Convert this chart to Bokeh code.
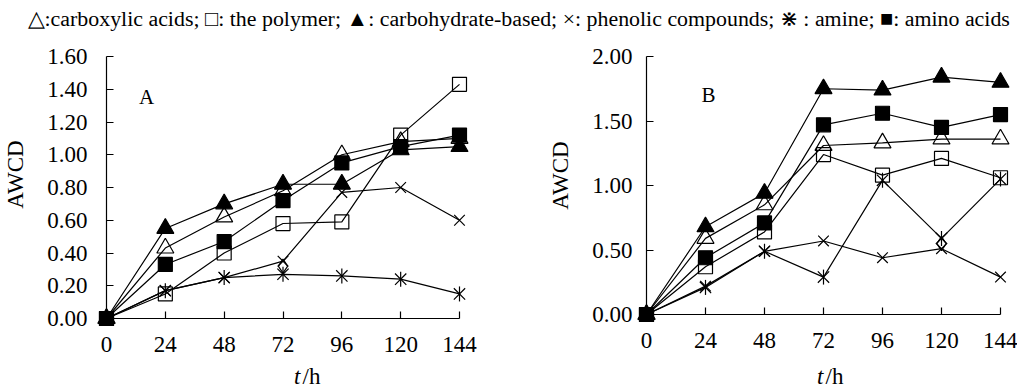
import math
from bokeh.plotting import figure
from bokeh.models import Label, Range1d, FixedTicker, LinearAxis
from bokeh.embed import file_html
from bokeh.resources import INLINE

# ---------------- data ----------------
hours = [0, 24, 48, 72, 96, 120, 144]
x_tick_labels = ["0", "24", "48", "72", "96", "120", "144"]

a_y_ticks = [0.0, 0.2, 0.4, 0.6, 0.8, 1.0, 1.2, 1.4, 1.6]
a_y_labels = ["0.00", "0.20", "0.40", "0.60", "0.80", "1.00", "1.20", "1.40", "1.60"]
b_y_ticks = [0.0, 0.5, 1.0, 1.5, 2.0]
b_y_labels = ["0.00", "0.50", "1.00", "1.50", "2.00"]

# Panel A
a_carboxylic = [0.0, 0.43, 0.62, 0.78, 1.00, 1.08, 1.10]
a_polymer = [0.0, 0.15, 0.40, 0.58, 0.59, 1.12, 1.43]
a_carbohydrate = [0.0, 0.55, 0.70, 0.82, 0.82, 1.03, 1.05]
a_phenolic = [0.0, 0.17, 0.25, 0.35, 0.77, 0.80, 0.60]
a_amine = [0.0, 0.17, 0.25, 0.27, 0.26, 0.24, 0.15]
a_amino = [0.0, 0.33, 0.47, 0.72, 0.95, 1.05, 1.12]
a_diamond_x = [72]
a_diamond_y = [0.32]

# Panel B
b_carboxylic = [0.0, 0.59, 0.85, 1.31, 1.33, 1.36, 1.36]
b_polymer = [0.0, 0.37, 0.64, 1.24, 1.08, 1.21, 1.06]
b_carbohydrate = [0.0, 0.68, 0.94, 1.75, 1.74, 1.84, 1.80]
b_phenolic = [0.0, 0.22, 0.49, 0.57, 0.44, 0.51, 0.29]
b_amine = [0.0, 0.21, 0.49, 0.29, 1.04, 0.59, 1.05]
b_amino = [0.0, 0.44, 0.71, 1.47, 1.56, 1.45, 1.55]
b_diamond_x = [120]
b_diamond_y = [0.55]

legend_text = ("\u25b3:carboxylic acids; \u25a1: the polymer; \u25b2: carbohydrate-based; "
               "\u00d7: phenolic compounds; \u22c7 : amine; \u25a0: amino acids")
y_title = "AWCD"
x_title_var = "t"
x_title_unit = "/h"

FONT = "Liberation Serif"
BLACK = "#000000"

# ---------------- layout (pixel anchors of the two panels) ----------------
W, H = 1017, 390
A_X0, A_X144 = 106.0, 459.0      # screen x of t=0 and t=144 in panel A
A_Y0, A_YTOP = 318.0, 56.0       # screen y of 0 and 1.60 in panel A
B_X0, B_X144 = 646.0, 1000.0
B_Y0, B_YTOP = 314.0, 56.0       # screen y of 0 and 2.00 in panel B

sAx = (A_X144 - A_X0) / 144.0
sAy = (A_Y0 - A_YTOP) / 1.6
sBx = (B_X144 - B_X0) / 144.0
sBy = (B_Y0 - B_YTOP) / 2.0

xA = Range1d(-A_X0 / sAx, (W - A_X0) / sAx)
yA = Range1d((A_Y0 - H) / sAy, A_Y0 / sAy)
xB = Range1d(-B_X0 / sBx, (W - B_X0) / sBx)
yB = Range1d((B_Y0 - H) / sBy, B_Y0 / sBy)

p = figure(output_backend="svg", toolbar_location=None,
           frame_width=W, frame_height=H, min_border=0,
           x_range=xA, y_range=yA, x_axis_location=None, y_axis_location=None)
p.extra_x_ranges = {"xb": xB}
p.extra_y_ranges = {"yb": yB}
p.title.visible = False
p.grid.visible = False
p.outline_line_color = None
p.background_fill_color = "white"
p.border_fill_color = "white"


def add_axes(xr, yr, yticks, ylabels, ymax, ystandoff):
    common = dict(x_range_name=xr, y_range_name=yr, fixed_location=0,
                  axis_line_color=BLACK, axis_line_width=1.2,
                  major_tick_line_color=BLACK, major_tick_line_width=1.2,
                  major_tick_in=7, major_tick_out=0, minor_tick_line_color=None,
                  major_label_text_font=FONT, major_label_text_font_size="23px",
                  major_label_text_color=BLACK)
    xa = LinearAxis(ticker=FixedTicker(ticks=hours), bounds=(0, 144),
                    major_label_overrides={h: s for h, s in zip(hours, x_tick_labels)},
                    major_label_standoff=18, **common)
    p.add_layout(xa, "below")
    ya = LinearAxis(ticker=FixedTicker(ticks=yticks), bounds=(0, ymax),
                    major_label_overrides={t: s for t, s in zip(yticks, ylabels)},
                    major_label_standoff=ystandoff, **common)
    p.add_layout(ya, "left")


add_axes("default", "default", a_y_ticks, a_y_labels, 1.6, 19)
add_axes("xb", "yb", b_y_ticks, b_y_labels, 2.0, 14)


def draw_series(series, diamond, xr, yr):
    carbox, poly, carbo, phen, amine, amino = series
    kw = dict(x_range_name=xr, y_range_name=yr)
    lw = 1.2
    for ys in (carbox, poly, carbo, phen, amine, amino):
        p.line(hours, ys, line_color=BLACK, line_width=lw, **kw)
    p.scatter(hours, carbox, marker="triangle", size=17, fill_color=None,
              line_color=BLACK, line_width=lw, **kw)
    p.scatter(hours, poly, marker="square", size=14, fill_color=None,
              line_color=BLACK, line_width=lw, **kw)
    p.scatter(hours, carbo, marker="triangle", size=17, fill_color=BLACK,
              line_color=BLACK, line_width=lw, **kw)
    p.scatter(hours, phen, marker="x", size=15, line_color=BLACK, line_width=lw, **kw)
    p.scatter(hours, amine, marker="x", size=16, line_color=BLACK, line_width=lw, **kw)
    p.scatter(hours, amine, marker="dash", angle=math.pi / 2, size=15,
              line_color=BLACK, line_width=lw, **kw)
    p.scatter(diamond[0], diamond[1], marker="diamond", size=14, fill_color=None,
              line_color=BLACK, line_width=lw, **kw)
    p.scatter(hours, amino, marker="square", size=14, fill_color=BLACK,
              line_color=BLACK, line_width=lw, **kw)


draw_series((a_carboxylic, a_polymer, a_carbohydrate, a_phenolic, a_amine, a_amino),
            (a_diamond_x, a_diamond_y), "default", "default")
draw_series((b_carboxylic, b_polymer, b_carbohydrate, b_phenolic, b_amine, b_amino),
            (b_diamond_x, b_diamond_y), "xb", "yb")


def text_at(px, py, text, size, align="left", angle=0.0, style="normal"):
    p.add_layout(Label(x=(px - A_X0) / sAx, y=(A_Y0 - py) / sAy, text=text,
                       text_font=FONT, text_font_size=size, text_font_style=style,
                       text_color=BLACK, text_align=align, text_baseline="middle",
                       angle=angle, angle_units="rad"))


# legend line
text_at(27, 17.5, legend_text, "21.9px")
# panel letters
text_at(146, 96, "A", "21px", align="center")
text_at(708, 94, "B", "21px", align="center")
# y titles
text_at(15, 174, y_title, "23px", align="center", angle=math.pi / 2)
text_at(560, 175, y_title, "23px", align="center", angle=math.pi / 2)
# x titles  (italic t + upright /h)
for t_right in (300, 823):
    text_at(t_right, 375.5, x_title_var, "23px", align="right", style="italic")
    text_at(t_right + 2, 375.5, x_title_unit, "23px", align="left")

with open("out.html", "w") as f:
    f.write(file_html(p, INLINE))
